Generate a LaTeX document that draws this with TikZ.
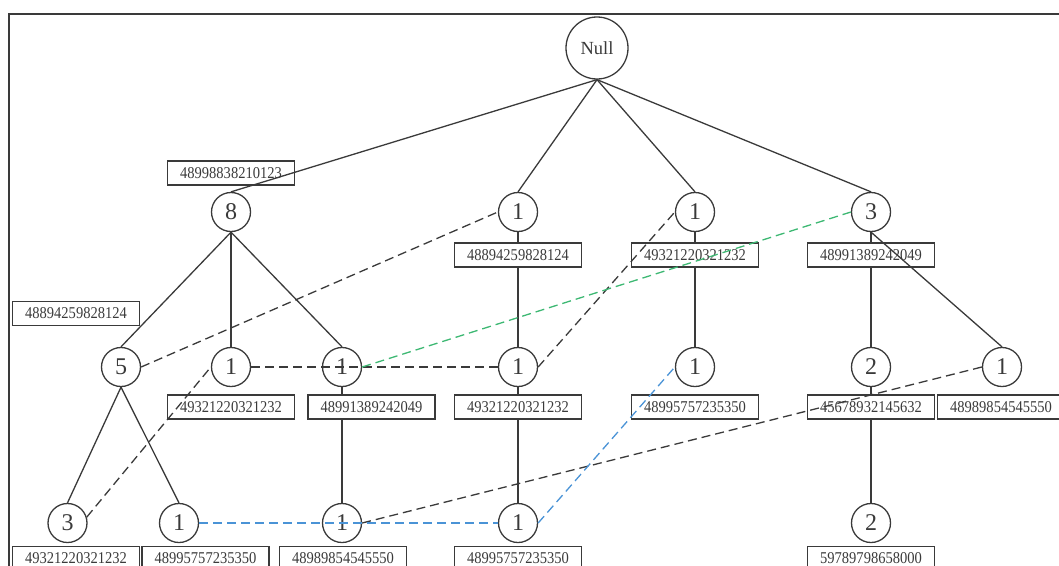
\documentclass[tikz,border=0pt]{standalone}
\usepackage{fontspec}
\setmainfont{Liberation Serif}
\newfontfamily\numfont{Liberation Serif}[FakeStretch=0.88]
\definecolor{ink}{HTML}{3A3A3A}
\definecolor{linkblue}{HTML}{4A93D6}
\definecolor{linkgreen}{HTML}{3DB873}
\begin{document}
\begin{tikzpicture}[x=1pt,y=-1pt,
  count/.style={circle,draw=ink,line width=1.3pt,minimum size=39pt,inner sep=0pt,
    text=ink,font=\fontsize{24}{24}\selectfont},
  rootnode/.style={count,minimum size=62pt,font=\fontsize{18.5}{18.5}\selectfont},
  idbox/.style={rectangle,draw=ink,line width=1.3pt,minimum width=127pt,
    minimum height=24pt,inner sep=0pt,text=ink,font=\numfont\fontsize{16.5}{16.5}\selectfont},
  treeline/.style={draw=ink,line width=1.3pt},
  nodelink/.style={draw=ink,line width=1.3pt,dash pattern=on 9pt off 5pt},
  ]
\useasboundingbox (0,0) rectangle (1059,565);

% frame
\draw[ink,line width=2.2pt] (8.7,590) -- (8.7,14.3) -- (1090,14.3);

% count nodes
\node[rootnode] (root) at (597,48) {Null};

\node[count] (a8)   at (231,212) {8};
\node[count] (a518) at (518,212) {1};
\node[count] (a695) at (695,212) {1};
\node[count] (a871) at (871,212) {3};

\node[count] (b5)    at (121,367)  {5};
\node[count] (b231)  at (231,367)  {1};
\node[count] (b341)  at (342,367)  {1};
\node[count] (b518)  at (518,367)  {1};
\node[count] (b695)  at (695,367)  {1};
\node[count] (b871)  at (871,367)  {2};
\node[count] (b1001) at (1002,367) {1};

\node[count] (c3)   at (67.5,523) {3};
\node[count] (c179) at (179,523)  {1};
\node[count] (c341) at (342,523)  {1};
\node[count] (c518) at (518,523)  {1};
\node[count] (c871) at (871,523)  {2};

% item id boxes
\node[idbox] (ta8)   at (231,173)   {48998838210123};
\node[idbox] (tb5)   at (76,313.5)  {48894259828124};
\node[idbox] (ta518) at (518,255)   {48894259828124};
\node[idbox] (ta695) at (695,255)   {49321220321232};
\node[idbox] (ta871) at (871,255)   {48991389242049};

\node[idbox] (tb231)  at (231,407)   {49321220321232};
\node[idbox] (tb341)  at (371.5,407) {48991389242049};
\node[idbox] (tb518)  at (518,407)   {49321220321232};
\node[idbox] (tb695)  at (695,407)   {48995757235350};
\node[idbox] (tb871)  at (871,407)   {45678932145632};
\node[idbox] (tb1001) at (1001,407)  {48989854545550};

\node[idbox] (tc3)   at (76,558.5)    {49321220321232};
\node[idbox] (tc179) at (205.5,558.5) {48995757235350};
\node[idbox] (tc341) at (343,558.5)   {48989854545550};
\node[idbox] (tc518) at (518,558.5)   {48995757235350};
\node[idbox] (tc871) at (871,558.5)   {59789798658000};

% tree edges
\draw[treeline] (root.south) -- (a8.north);
\draw[treeline] (root.south) -- (a518.north);
\draw[treeline] (root.south) -- (a695.north);
\draw[treeline] (root.south) -- (a871.north);

\draw[treeline] (a8.south) -- (b5.north);
\draw[treeline] (a8.south) -- (b231.north);
\draw[treeline] (a8.south) -- (b341.north);

\draw[treeline] (a518.south) -- (ta518.north);
\draw[treeline] (ta518.south) -- (b518.north);
\draw[treeline] (a695.south) -- (ta695.north);
\draw[treeline] (ta695.south) -- (b695.north);
\draw[treeline] (a871.south) -- (ta871.north);
\draw[treeline] (ta871.south) -- (b871.north);
\draw[treeline] (a871.south) -- (b1001.north);

\draw[treeline] (b5.south) -- (c3.north);
\draw[treeline] (b5.south) -- (c179.north);
\draw[treeline] (b341.south) -- (b341.south |- tb341.north);
\draw[treeline] (c341.north |- tb341.south) -- (c341.north);
\draw[treeline] (b518.south) -- (tb518.north);
\draw[treeline] (tb518.south) -- (c518.north);
\draw[treeline] (b871.south) -- (tb871.north);
\draw[treeline] (tb871.south) -- (c871.north);

% node-links between equal items
\draw[nodelink] (b5.east) -- (a518.west);
\draw[nodelink] (c3.17) -- (b231.west);
\draw[nodelink] (b231.east) -- (b518.west);
\draw[nodelink] (b518.east) -- (a695.west);
\draw[nodelink] (c341.east) -- (b1001.west);
\draw[nodelink,draw=linkgreen] (b341.east) -- (a871.west);
\draw[nodelink,draw=linkblue] (c179.east) -- (c518.west);
\draw[nodelink,draw=linkblue] (c518.east) -- (b695.west);
\end{tikzpicture}
\end{document}
